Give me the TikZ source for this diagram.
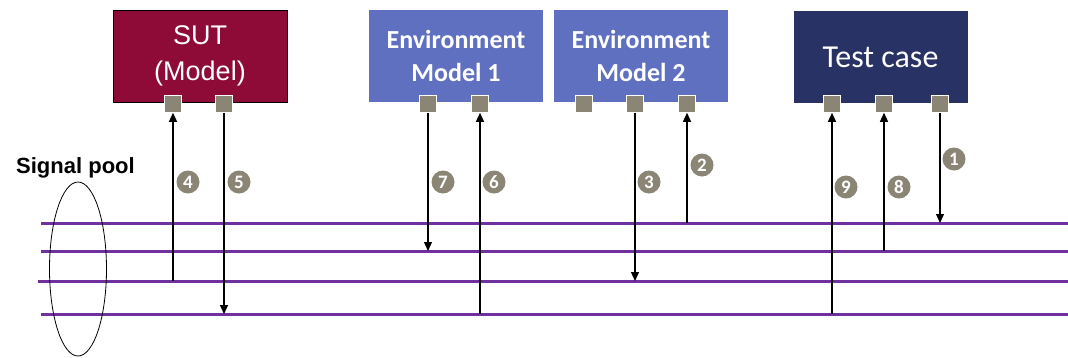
\documentclass[tikz,border=0pt]{standalone}
\usepackage{fontspec}
\setmainfont{Liberation Sans}
\newfontfamily\calfont{Carlito}
\usetikzlibrary{arrows.meta,shapes.geometric}
\definecolor{sutred}{HTML}{8E0B38}
\definecolor{envblue}{HTML}{5F70C0}
\definecolor{tcnavy}{HTML}{283264}
\definecolor{portgray}{HTML}{8B8575}
\definecolor{poolpurple}{HTML}{7030A0}
\begin{document}
\begin{tikzpicture}[x=1pt,y=-1pt,
  box/.style={minimum width=174pt, minimum height=92pt, inner sep=0pt, text=white, align=center},
  port/.style={fill=portgray, draw=white, line width=0.5pt, minimum size=17pt, inner sep=0pt},
  badge/.style={circle, fill=portgray, minimum size=23pt, inner sep=0pt, text=white, font=\calfont\bfseries\fontsize{19}{19}\selectfont},
  pool/.style={poolpurple, line width=3pt},
  arr/.style={black, line width=1.2pt, -{Triangle[length=9pt,width=8pt]}}]
\path[use as bounding box] (0,0) rectangle (1068,357);

% boxes
\node[box, fill=sutred, draw=black, line width=0.8pt, font=\fontsize{27}{36}\selectfont] (sut) at (200,56) {SUT\\(Model)};
\node[box, fill=envblue, font=\calfont\bfseries\fontsize{26}{33}\selectfont] (em1) at (456,56) {Environment\\Model 1};
\node[box, fill=envblue, font=\calfont\bfseries\fontsize{26}{33}\selectfont] (em2) at (641,56) {Environment\\Model 2};
\node[box, fill=tcnavy, font=\calfont\fontsize{32}{33}\selectfont] (tc) at (880.5,57) {Test case};

% ports
\node[port] (sutA) at (173,104) {};
\node[port] (sutB) at (224,104) {};
\node[port] (emA) at (428,104) {};
\node[port] (emB) at (480,104) {};
\node[port] (emC) at (584,104) {};
\node[port] (emD) at (635,104) {};
\node[port] (emE) at (687,104) {};
\node[port] (tcA) at (832,104) {};
\node[port] (tcB) at (884,104) {};
\node[port] (tcC) at (940,104) {};

% signal pool lines
\coordinate (l1s) at (41,223); \coordinate (l1e) at (1068,223);
\coordinate (l2s) at (41,251); \coordinate (l2e) at (1068,251);
\coordinate (l3s) at (38,281); \coordinate (l3e) at (1068,281);
\coordinate (l4s) at (41,314); \coordinate (l4e) at (1068,314);
\draw[pool] (l1s) -- (l1e);
\draw[pool] (l2s) -- (l2e);
\draw[pool] (l3s) -- (l3e);
\draw[pool] (l4s) -- (l4e);

% signal pool label and ellipse
\node[anchor=west, inner sep=0pt, font=\bfseries\fontsize{22}{24}\selectfont] (pooltxt) at (16,168) {Signal pool};
\node[ellipse, draw=black, line width=0.8pt, minimum width=57pt, minimum height=174pt, inner sep=0pt] (poolell) at (78,269) {};

% connection points
\coordinate (p4) at (173,281);
\coordinate (p5) at (224,314);
\coordinate (p7) at (428,251);
\coordinate (p6) at (480,314);
\coordinate (p3) at (635,281);
\coordinate (p2) at (687,223);
\coordinate (p9) at (832,314);
\coordinate (p8) at (884,251);
\coordinate (p1) at (940,223);

% arrows
\draw[arr] (p4) -- (sutA.south);
\draw[arr] (sutB.south) -- (p5);
\draw[arr] (emA.south) -- (p7);
\draw[arr] (p6) -- (emB.south);
\draw[arr] (emD.south) -- (p3);
\draw[arr] (p2) -- (emE.south);
\draw[arr] (p9) -- (tcA.south);
\draw[arr] (p8) -- (tcB.south);
\draw[arr] (tcC.south) -- (p1);

% badges
\node[badge] (b1) at (954,159) {1};
\node[badge] (b2) at (702,165) {2};
\node[badge] (b3) at (649,182) {3};
\node[badge] (b4) at (188,182) {4};
\node[badge] (b5) at (239,182) {5};
\node[badge] (b6) at (494,182) {6};
\node[badge] (b7) at (443,182) {7};
\node[badge] (b8) at (899,187) {8};
\node[badge] (b9) at (846,187) {9};
\end{tikzpicture}
\end{document}
